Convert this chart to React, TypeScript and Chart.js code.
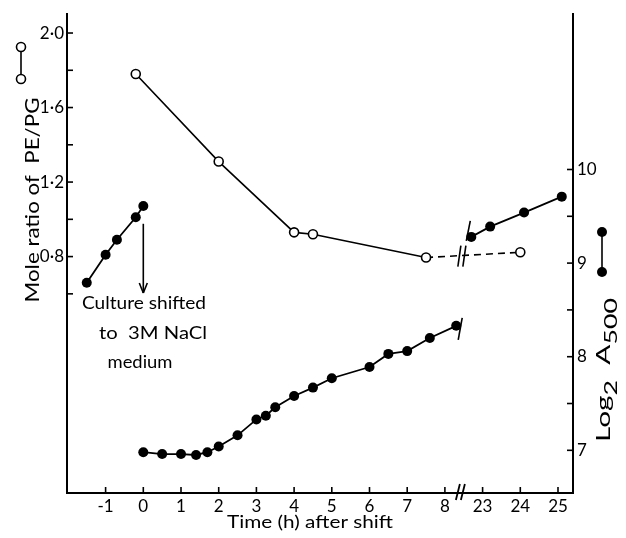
import React, { useEffect, useRef } from "react";
import { Chart, registerables } from "chart.js";

Chart.register(...registerables);

const W = 626;
const H = 538;
const FONT = "Lato, 'DejaVu Sans', sans-serif";

// Axis break: hours 8.45 .. 22.45 are cut out of the time axis
const BREAK_GAP = 14;
const BREAK_AT = 8.45;

// Growth before the shift (log2 A500, right axis)
const preShiftTime = [-1.5, -1.0, -0.7, -0.2, 0];
const preShiftLog2A = [8.79, 9.09, 9.25, 9.49, 9.61];

// Growth after the shift to 3M NaCl (log2 A500, right axis)
const growthTime = [0, 0.5, 1, 1.4, 1.7, 2, 2.5, 3, 3.25, 3.5, 4, 4.5, 5, 6, 6.5, 7, 7.6, 8.3];
const growthLog2A = [6.98, 6.96, 6.96, 6.95, 6.98, 7.04, 7.16, 7.33, 7.37, 7.46, 7.58, 7.67, 7.77, 7.89, 8.03, 8.06, 8.2, 8.33];

// Late growth after the break (log2 A500, right axis)
const lateTime = [22.7, 23.2, 24.1, 25.1];
const lateLog2A = [9.28, 9.39, 9.54, 9.71];

// Mole ratio PE/PG (left axis)
const ratioTime = [-0.2, 2, 4, 4.5, 7.5, 24];
const ratioPEPG = [1.78, 1.31, 0.93, 0.92, 0.795, 0.823];

// Ticks
const xTickValues = [-1, 0, 1, 2, 3, 4, 5, 6, 7, 8, 23, 24, 25];
const leftTickValues = [0.6, 0.8, 1.0, 1.2, 1.4, 1.6, 1.8, 2.0];
const leftLabelled = [0.8, 1.2, 1.6, 2.0];
const rightTickValues = [7, 7.5, 8, 8.5, 9, 9.5, 10];
const rightLabelled = [7, 8, 9, 10];

// Axis ranges
const X_MIN = -2.024;
const X_MAX = 11.398;
const YL_MIN = -0.469;
const YL_MAX = 2.101;
const YR_MIN = 6.544;
const YR_MAX = 11.659;

// Arrow marking the shift (time, log2 A500 from/to)
const ARROW_TIME = 0;
const ARROW_FROM = 9.42;
const ARROW_TO = 8.68;

const mapX = (t: number) => (t > 15 ? t - BREAK_GAP : t);
const unmapX = (v: number) => (v > BREAK_AT ? v + BREAK_GAP : v);
const pts = (xs: number[], ys: number[]) => xs.map((t, i) => ({ x: mapX(t), y: ys[i] }));
const near = (a: number, list: number[]) => list.some((b) => Math.abs(a - b) < 1e-6);

// draw text centred at (cx, cy), stretched horizontally to the given width
function fitText(ctx: CanvasRenderingContext2D, s: string, cx: number, cy: number, width: number, size: number) {
  ctx.save();
  ctx.font = `${size}px ${FONT}`;
  ctx.textAlign = "center";
  ctx.textBaseline = "middle";
  const w = ctx.measureText(s).width;
  ctx.translate(cx, cy);
  ctx.scale(width / w, 1);
  ctx.fillText(s, 0, 0);
  ctx.restore();
}

const decorations = {
  id: "decorations",
  afterDraw(chart: any) {
    const ctx = chart.ctx as CanvasRenderingContext2D;
    const { x, yL, yR } = chart.scales;
    const area = chart.chartArea;
    const line = (x1: number, y1: number, x2: number, y2: number) => {
      ctx.beginPath();
      ctx.moveTo(x1, y1);
      ctx.lineTo(x2, y2);
      ctx.stroke();
    };
    ctx.save();
    ctx.strokeStyle = "#000";
    ctx.fillStyle = "#000";
    ctx.lineWidth = 1.6;
    const tl = 6;
    x.ticks.forEach((t: any) => {
      const px = x.getPixelForValue(t.value);
      line(px, area.bottom, px, area.bottom - tl);
    });
    yL.ticks.forEach((t: any) => {
      const py = yL.getPixelForValue(t.value);
      line(area.left, py, area.left + tl, py);
    });
    yR.ticks.forEach((t: any) => {
      const py = yR.getPixelForValue(t.value);
      line(area.right, py, area.right - tl, py);
    });

    // break on x axis
    const bx = x.getPixelForValue(BREAK_AT);
    ctx.lineWidth = 1.8;
    line(bx - 6, area.bottom + 7, bx - 2, area.bottom - 9);
    line(bx - 1, area.bottom + 7, bx + 3, area.bottom - 9);

    // break on dashed ratio line
    const n = ratioTime.length;
    const xa = mapX(ratioTime[n - 2]);
    const xb = mapX(ratioTime[n - 1]);
    const f = (BREAK_AT - xa) / (xb - xa);
    const yv = ratioPEPG[n - 2] + f * (ratioPEPG[n - 1] - ratioPEPG[n - 2]);
    const by = yL.getPixelForValue(yv);
    ctx.lineWidth = 1.6;
    line(bx - 4, by + 11, bx - 1, by - 10);
    line(bx + 1, by + 11, bx + 4, by - 10);

    // break slashes on growth lines
    const gl = chart.getDatasetMeta(1).data;
    const last = gl[gl.length - 1];
    line(last.x + 6, last.y - 8, last.x + 2, last.y + 14);
    const late = chart.getDatasetMeta(2).data[0];
    line(late.x - 1, late.y - 16, late.x - 5, late.y + 4);

    // arrow
    const ax = x.getPixelForValue(ARROW_TIME);
    const ay1 = yR.getPixelForValue(ARROW_FROM);
    const ay2 = yR.getPixelForValue(ARROW_TO);
    ctx.lineWidth = 1.6;
    line(ax, ay1, ax, ay2);
    line(ax - 4, ay2 - 10, ax, ay2);
    line(ax + 4, ay2 - 10, ax, ay2);

    // annotation
    fitText(ctx, "Culture shifted", 144, 303, 124, 18);
    fitText(ctx, "to  3M NaCl", 153, 333, 108, 18);
    fitText(ctx, "medium", 140, 362, 65, 18);

    // x title
    fitText(ctx, "Time (h) after shift", 310, 522, 166, 18);

    // left title
    ctx.save();
    ctx.translate(33, 200);
    ctx.rotate(-Math.PI / 2);
    fitText(ctx, "Mole ratio of  PE/PG", 0, 0, 205, 19);
    ctx.restore();

    // right title with subscripts
    ctx.save();
    ctx.translate(604, 370);
    ctx.rotate(-Math.PI / 2);
    ctx.textAlign = "left";
    ctx.textBaseline = "alphabetic";
    const parts: [string, number, number][] = [
      ["Log", 19, 0],
      ["2", 17, 7],
      ["  A", 19, 0],
      ["500", 17, 7],
    ];
    let total = 0;
    parts.forEach(([s, fs]) => {
      ctx.font = `${fs}px ${FONT}`;
      total += ctx.measureText(s).width;
    });
    const sx = 144 / total;
    ctx.scale(sx, 1);
    let cx = -total / 2;
    parts.forEach(([s, fs, dy]) => {
      ctx.font = `${fs}px ${FONT}`;
      ctx.fillText(s, cx, 6 + dy);
      cx += ctx.measureText(s).width;
    });
    ctx.restore();

    // legend symbols
    ctx.lineWidth = 1.6;
    line(21, 47, 21, 79);
    [47, 79].forEach((cy) => {
      ctx.beginPath();
      ctx.arc(21, cy, 4.5, 0, Math.PI * 2);
      ctx.fillStyle = "#fff";
      ctx.fill();
      ctx.stroke();
    });
    ctx.fillStyle = "#000";
    line(602, 232, 602, 272);
    [232, 272].forEach((cy) => {
      ctx.beginPath();
      ctx.arc(602, cy, 5, 0, Math.PI * 2);
      ctx.fill();
    });
    ctx.restore();
  },
};

const gridOpts = { display: false, drawTicks: false, tickLength: 0 };

export default function App() {
  const ref = useRef<HTMLCanvasElement | null>(null);
  useEffect(() => {
    if (!ref.current) return;
    const filled = {
      yAxisID: "yR",
      borderColor: "#000",
      borderWidth: 1.8,
      pointRadius: 5,
      pointBackgroundColor: "#000",
      pointBorderColor: "#000",
      pointBorderWidth: 0,
      fill: false,
      tension: 0,
    };
    const chart = new Chart(ref.current, {
      type: "line",
      data: {
        datasets: [
          { ...filled, label: "pre", data: pts(preShiftTime, preShiftLog2A) },
          { ...filled, label: "growth", data: pts(growthTime, growthLog2A) },
          { ...filled, label: "late", data: pts(lateTime, lateLog2A) },
          {
            label: "PE/PG",
            yAxisID: "yL",
            data: pts(ratioTime, ratioPEPG),
            borderColor: "#000",
            borderWidth: 1.6,
            pointRadius: 4.5,
            pointBackgroundColor: "#fff",
            pointBorderColor: "#000",
            pointBorderWidth: 1.6,
            fill: false,
            tension: 0,
            segment: {
              borderDash: (c: any) => (c.p0DataIndex === ratioTime.length - 2 ? [7, 5] : undefined),
            },
          },
        ],
      },
      options: {
        responsive: false,
        animation: false,
        devicePixelRatio: 1,
        layout: { padding: { top: 11, left: 0, right: 0, bottom: 0 } },
        plugins: { legend: { display: false }, tooltip: { enabled: false } },
        scales: {
          x: {
            type: "linear",
            min: X_MIN,
            max: X_MAX,
            afterBuildTicks: (s: any) => {
              s.ticks = xTickValues.map((v) => ({ value: mapX(v) }));
            },
            afterFit: (s: any) => {
              s.height = 45;
            },
            ticks: {
              autoSkip: false,
              maxRotation: 0,
              padding: 3,
              color: "#000",
              font: { family: FONT, size: 17 },
              callback: (v: any) => String(Math.round(unmapX(Number(v)))),
            },
            grid: gridOpts,
            border: { display: true, color: "#000", width: 2 },
          },
          yL: {
            type: "linear",
            position: "left",
            min: YL_MIN,
            max: YL_MAX,
            afterBuildTicks: (s: any) => {
              s.ticks = leftTickValues.map((v) => ({ value: v }));
            },
            afterFit: (s: any) => {
              s.width = 67;
            },
            ticks: {
              autoSkip: false,
              padding: 3,
              color: "#000",
              font: { family: FONT, size: 17 },
              callback: (v: any) => (near(Number(v), leftLabelled) ? Number(v).toFixed(1).replace(".", "\u00B7") : ""),
            },
            grid: gridOpts,
            border: { display: true, color: "#000", width: 2 },
          },
          yR: {
            type: "linear",
            position: "right",
            min: YR_MIN,
            max: YR_MAX,
            afterBuildTicks: (s: any) => {
              s.ticks = rightTickValues.map((v) => ({ value: v }));
            },
            afterFit: (s: any) => {
              s.width = 53;
            },
            ticks: {
              autoSkip: false,
              padding: 4,
              color: "#000",
              font: { family: FONT, size: 17 },
              callback: (v: any) => (near(Number(v), rightLabelled) ? String(Math.round(Number(v))) : ""),
            },
            grid: gridOpts,
            border: { display: true, color: "#000", width: 2 },
          },
        },
      },
      plugins: [decorations],
    } as any);
    return () => chart.destroy();
  }, []);
  return (
    <canvas
      ref={ref}
      width={W}
      height={H}
      style={{ position: "fixed", left: 0, top: 0, width: W, height: H, background: "#fff" }}
    />
  );
}
